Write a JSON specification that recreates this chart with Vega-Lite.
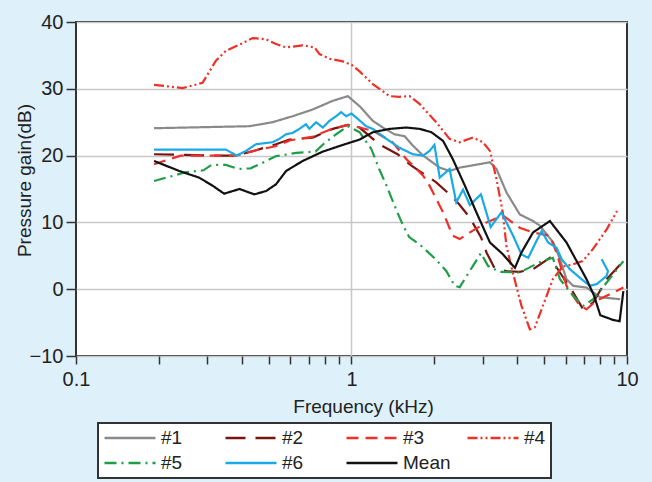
{
  "$schema": "https://vega.github.io/schema/vega-lite/v6.json",
  "width": 551,
  "height": 334,
  "autosize": {"type": "none"},
  "padding": {"left": 76, "top": 22, "right": 25, "bottom": 126},
  "background": "#DEF0FA",
  "config": {
    "view": {"stroke": "#333333", "strokeWidth": 2, "fill": "#ffffff"},
    "font": "Liberation Sans",
    "legend": {
      "orient": "none",
      "legendX": 22,
      "legendY": 401,
      "direction": "horizontal",
      "columns": 4,
      "gridAlign": "all",
      "symbolType": "M-1,0H5",
      "symbolSize": 289,
      "symbolStrokeWidth": 2.5,
      "symbolOpacity": 1,
      "labelFontSize": 19,
      "labelFont": "Liberation Sans",
      "labelColor": "#222222",
      "labelOffset": 38,
      "fillColor": "#ffffff",
      "strokeColor": "#333333",
      "strokeWidth": 2,
      "padding": 5,
      "columnPadding": 11,
      "rowPadding": 5
    }
  },
  "data": {
    "values": [
      {"s": "#1", "k": 0, "f": 0.192, "v": 24.1},
      {"s": "#1", "k": 1, "f": 0.426, "v": 24.4},
      {"s": "#1", "k": 2, "f": 0.517, "v": 25.0},
      {"s": "#1", "k": 3, "f": 0.612, "v": 25.9},
      {"s": "#1", "k": 4, "f": 0.723, "v": 26.9},
      {"s": "#1", "k": 5, "f": 0.855, "v": 28.2},
      {"s": "#1", "k": 6, "f": 0.97, "v": 28.9},
      {"s": "#1", "k": 7, "f": 1.07, "v": 27.4},
      {"s": "#1", "k": 8, "f": 1.195, "v": 25.2},
      {"s": "#1", "k": 9, "f": 1.3, "v": 24.2},
      {"s": "#1", "k": 10, "f": 1.43, "v": 23.2},
      {"s": "#1", "k": 11, "f": 1.56, "v": 22.9},
      {"s": "#1", "k": 12, "f": 1.67, "v": 21.5},
      {"s": "#1", "k": 13, "f": 1.82, "v": 20.0},
      {"s": "#1", "k": 14, "f": 2.09, "v": 18.2},
      {"s": "#1", "k": 15, "f": 2.27, "v": 17.7},
      {"s": "#1", "k": 16, "f": 2.47, "v": 18.2},
      {"s": "#1", "k": 17, "f": 3.18, "v": 19.0},
      {"s": "#1", "k": 18, "f": 3.36, "v": 18.0},
      {"s": "#1", "k": 19, "f": 3.65, "v": 14.5},
      {"s": "#1", "k": 20, "f": 4.08, "v": 11.2},
      {"s": "#1", "k": 21, "f": 4.56, "v": 10.2},
      {"s": "#1", "k": 22, "f": 4.83, "v": 9.5},
      {"s": "#1", "k": 23, "f": 5.4, "v": 7.0},
      {"s": "#1", "k": 24, "f": 5.71, "v": 4.5},
      {"s": "#1", "k": 25, "f": 6.03, "v": 1.5},
      {"s": "#1", "k": 26, "f": 6.38, "v": 0.5},
      {"s": "#1", "k": 27, "f": 7.13, "v": 0.25},
      {"s": "#1", "k": 28, "f": 7.98, "v": -1.2},
      {"s": "#1", "k": 29, "f": 9.44, "v": -1.5},

      {"s": "#2", "k": 0, "f": 0.192, "v": 20.2},
      {"s": "#2", "k": 1, "f": 0.331, "v": 20.0},
      {"s": "#2", "k": 2, "f": 0.381, "v": 20.0},
      {"s": "#2", "k": 3, "f": 0.45, "v": 20.8},
      {"s": "#2", "k": 4, "f": 0.532, "v": 21.7},
      {"s": "#2", "k": 5, "f": 0.595, "v": 22.4},
      {"s": "#2", "k": 6, "f": 0.723, "v": 22.7},
      {"s": "#2", "k": 7, "f": 0.855, "v": 24.0},
      {"s": "#2", "k": 8, "f": 0.97, "v": 24.6},
      {"s": "#2", "k": 9, "f": 1.07, "v": 24.2},
      {"s": "#2", "k": 10, "f": 1.26, "v": 21.7},
      {"s": "#2", "k": 11, "f": 1.47, "v": 20.2},
      {"s": "#2", "k": 12, "f": 1.65, "v": 18.5},
      {"s": "#2", "k": 13, "f": 1.87, "v": 17.0},
      {"s": "#2", "k": 14, "f": 2.03, "v": 16.0},
      {"s": "#2", "k": 15, "f": 2.27, "v": 14.2},
      {"s": "#2", "k": 16, "f": 2.45, "v": 12.8},
      {"s": "#2", "k": 17, "f": 2.68, "v": 10.8},
      {"s": "#2", "k": 18, "f": 2.95, "v": 7.8},
      {"s": "#2", "k": 19, "f": 3.09, "v": 5.5},
      {"s": "#2", "k": 20, "f": 3.3, "v": 3.2},
      {"s": "#2", "k": 21, "f": 3.65, "v": 2.7},
      {"s": "#2", "k": 22, "f": 4.08, "v": 2.6},
      {"s": "#2", "k": 23, "f": 4.56, "v": 3.0},
      {"s": "#2", "k": 24, "f": 5.25, "v": 4.7},
      {"s": "#2", "k": 25, "f": 5.71, "v": 2.5},
      {"s": "#2", "k": 26, "f": 6.38, "v": -0.5},
      {"s": "#2", "k": 27, "f": 6.93, "v": -3.0},
      {"s": "#2", "k": 28, "f": 7.54, "v": -2.0},
      {"s": "#2", "k": 29, "f": 8.44, "v": 1.5},
      {"s": "#2", "k": 30, "f": 9.7, "v": 4.2},

      {"s": "#3", "k": 0, "f": 0.192, "v": 18.7},
      {"s": "#3", "k": 1, "f": 0.24, "v": 20.0},
      {"s": "#3", "k": 2, "f": 0.33, "v": 20.0},
      {"s": "#3", "k": 3, "f": 0.38, "v": 20.0},
      {"s": "#3", "k": 4, "f": 0.45, "v": 20.8},
      {"s": "#3", "k": 5, "f": 0.53, "v": 21.4},
      {"s": "#3", "k": 6, "f": 0.6, "v": 22.3},
      {"s": "#3", "k": 7, "f": 0.72, "v": 22.8},
      {"s": "#3", "k": 8, "f": 0.85, "v": 24.0},
      {"s": "#3", "k": 9, "f": 0.97, "v": 24.6},
      {"s": "#3", "k": 10, "f": 1.07, "v": 24.2},
      {"s": "#3", "k": 11, "f": 1.2, "v": 23.7},
      {"s": "#3", "k": 12, "f": 1.41, "v": 22.0},
      {"s": "#3", "k": 13, "f": 1.58, "v": 19.5},
      {"s": "#3", "k": 14, "f": 1.72, "v": 18.0},
      {"s": "#3", "k": 15, "f": 1.82, "v": 17.0},
      {"s": "#3", "k": 16, "f": 1.92, "v": 15.5},
      {"s": "#3", "k": 17, "f": 2.15, "v": 11.5},
      {"s": "#3", "k": 18, "f": 2.33, "v": 8.0},
      {"s": "#3", "k": 19, "f": 2.47, "v": 7.5},
      {"s": "#3", "k": 20, "f": 2.69, "v": 8.5},
      {"s": "#3", "k": 21, "f": 3.09, "v": 10.0},
      {"s": "#3", "k": 22, "f": 3.55, "v": 11.0},
      {"s": "#3", "k": 23, "f": 4.08, "v": 9.2},
      {"s": "#3", "k": 24, "f": 4.56, "v": 8.5},
      {"s": "#3", "k": 25, "f": 5.25, "v": 8.0},
      {"s": "#3", "k": 26, "f": 5.55, "v": 5.5},
      {"s": "#3", "k": 27, "f": 6.03, "v": 0.5},
      {"s": "#3", "k": 28, "f": 6.75, "v": -2.5},
      {"s": "#3", "k": 29, "f": 7.13, "v": -3.0},
      {"s": "#3", "k": 30, "f": 7.76, "v": -1.7},
      {"s": "#3", "k": 31, "f": 8.91, "v": -0.5},
      {"s": "#3", "k": 32, "f": 9.7, "v": 0.25},

      {"s": "#4", "k": 0, "f": 0.192, "v": 30.6},
      {"s": "#4", "k": 1, "f": 0.244, "v": 30.1},
      {"s": "#4", "k": 2, "f": 0.288, "v": 30.9},
      {"s": "#4", "k": 3, "f": 0.322, "v": 34.2},
      {"s": "#4", "k": 4, "f": 0.35, "v": 35.7},
      {"s": "#4", "k": 5, "f": 0.392, "v": 36.6},
      {"s": "#4", "k": 6, "f": 0.438, "v": 37.6},
      {"s": "#4", "k": 7, "f": 0.49, "v": 37.4},
      {"s": "#4", "k": 8, "f": 0.532, "v": 36.7},
      {"s": "#4", "k": 9, "f": 0.579, "v": 36.2},
      {"s": "#4", "k": 10, "f": 0.665, "v": 36.5},
      {"s": "#4", "k": 11, "f": 0.734, "v": 36.2},
      {"s": "#4", "k": 12, "f": 0.765, "v": 35.2},
      {"s": "#4", "k": 13, "f": 0.832, "v": 34.5},
      {"s": "#4", "k": 14, "f": 0.93, "v": 34.1},
      {"s": "#4", "k": 15, "f": 1.0, "v": 33.6},
      {"s": "#4", "k": 16, "f": 1.07, "v": 32.6},
      {"s": "#4", "k": 17, "f": 1.195, "v": 30.7},
      {"s": "#4", "k": 18, "f": 1.375, "v": 28.9},
      {"s": "#4", "k": 19, "f": 1.49, "v": 28.8},
      {"s": "#4", "k": 20, "f": 1.625, "v": 28.9},
      {"s": "#4", "k": 21, "f": 1.77, "v": 27.7},
      {"s": "#4", "k": 22, "f": 2.03, "v": 25.0},
      {"s": "#4", "k": 23, "f": 2.27, "v": 22.5},
      {"s": "#4", "k": 24, "f": 2.47, "v": 22.0},
      {"s": "#4", "k": 25, "f": 2.76, "v": 22.7},
      {"s": "#4", "k": 26, "f": 3.0, "v": 22.0},
      {"s": "#4", "k": 27, "f": 3.18, "v": 20.7},
      {"s": "#4", "k": 28, "f": 3.36, "v": 16.5},
      {"s": "#4", "k": 29, "f": 3.54, "v": 11.5},
      {"s": "#4", "k": 30, "f": 3.65, "v": 6.5},
      {"s": "#4", "k": 31, "f": 3.85, "v": 2.5},
      {"s": "#4", "k": 32, "f": 4.14, "v": -2.5},
      {"s": "#4", "k": 33, "f": 4.44, "v": -6.0},
      {"s": "#4", "k": 34, "f": 4.63, "v": -5.7},
      {"s": "#4", "k": 35, "f": 4.95, "v": -2.5},
      {"s": "#4", "k": 36, "f": 5.38, "v": 1.5},
      {"s": "#4", "k": 37, "f": 5.85, "v": 3.4},
      {"s": "#4", "k": 38, "f": 6.36, "v": 3.7},
      {"s": "#4", "k": 39, "f": 6.9, "v": 4.2},
      {"s": "#4", "k": 40, "f": 7.52, "v": 6.0},
      {"s": "#4", "k": 41, "f": 8.45, "v": 9.0},
      {"s": "#4", "k": 42, "f": 9.2, "v": 11.7},

      {"s": "#5", "k": 0, "f": 0.192, "v": 16.2},
      {"s": "#5", "k": 1, "f": 0.25, "v": 17.5},
      {"s": "#5", "k": 2, "f": 0.29, "v": 17.8},
      {"s": "#5", "k": 3, "f": 0.31, "v": 18.6},
      {"s": "#5", "k": 4, "f": 0.35, "v": 18.6},
      {"s": "#5", "k": 5, "f": 0.39, "v": 18.0},
      {"s": "#5", "k": 6, "f": 0.43, "v": 18.1},
      {"s": "#5", "k": 7, "f": 0.48, "v": 19.0},
      {"s": "#5", "k": 8, "f": 0.53, "v": 19.9},
      {"s": "#5", "k": 9, "f": 0.63, "v": 20.4},
      {"s": "#5", "k": 10, "f": 0.74, "v": 20.6},
      {"s": "#5", "k": 11, "f": 0.79, "v": 21.7},
      {"s": "#5", "k": 12, "f": 0.88, "v": 23.2},
      {"s": "#5", "k": 13, "f": 0.97, "v": 24.4},
      {"s": "#5", "k": 14, "f": 1.07, "v": 23.5},
      {"s": "#5", "k": 15, "f": 1.18, "v": 21.0},
      {"s": "#5", "k": 16, "f": 1.26, "v": 18.0},
      {"s": "#5", "k": 17, "f": 1.34, "v": 15.5},
      {"s": "#5", "k": 18, "f": 1.45, "v": 12.0},
      {"s": "#5", "k": 19, "f": 1.54, "v": 9.5},
      {"s": "#5", "k": 20, "f": 1.62, "v": 7.8},
      {"s": "#5", "k": 21, "f": 1.79, "v": 6.5},
      {"s": "#5", "k": 22, "f": 2.03, "v": 4.4},
      {"s": "#5", "k": 23, "f": 2.21, "v": 2.7},
      {"s": "#5", "k": 24, "f": 2.37, "v": 0.5},
      {"s": "#5", "k": 25, "f": 2.47, "v": 0.3},
      {"s": "#5", "k": 26, "f": 2.76, "v": 3.5},
      {"s": "#5", "k": 27, "f": 2.95, "v": 5.4},
      {"s": "#5", "k": 28, "f": 3.13, "v": 3.5},
      {"s": "#5", "k": 29, "f": 3.45, "v": 2.6},
      {"s": "#5", "k": 30, "f": 4.08, "v": 2.5},
      {"s": "#5", "k": 31, "f": 4.8, "v": 4.0},
      {"s": "#5", "k": 32, "f": 5.38, "v": 4.7},
      {"s": "#5", "k": 33, "f": 5.71, "v": 1.5},
      {"s": "#5", "k": 34, "f": 6.38, "v": -1.0},
      {"s": "#5", "k": 35, "f": 6.93, "v": -2.5},
      {"s": "#5", "k": 36, "f": 7.54, "v": -1.5},
      {"s": "#5", "k": 37, "f": 8.44, "v": 1.0},
      {"s": "#5", "k": 38, "f": 9.7, "v": 4.2},

      {"s": "#6", "k": 0, "f": 0.192, "v": 20.9},
      {"s": "#6", "k": 1, "f": 0.35, "v": 20.9},
      {"s": "#6", "k": 2, "f": 0.383, "v": 20.0},
      {"s": "#6", "k": 3, "f": 0.414, "v": 20.7},
      {"s": "#6", "k": 4, "f": 0.45, "v": 21.7},
      {"s": "#6", "k": 5, "f": 0.517, "v": 22.0},
      {"s": "#6", "k": 6, "f": 0.547, "v": 22.5},
      {"s": "#6", "k": 7, "f": 0.579, "v": 23.2},
      {"s": "#6", "k": 8, "f": 0.612, "v": 23.4},
      {"s": "#6", "k": 9, "f": 0.647, "v": 24.0},
      {"s": "#6", "k": 10, "f": 0.684, "v": 24.7},
      {"s": "#6", "k": 11, "f": 0.703, "v": 24.0},
      {"s": "#6", "k": 12, "f": 0.744, "v": 25.0},
      {"s": "#6", "k": 13, "f": 0.787, "v": 24.2},
      {"s": "#6", "k": 14, "f": 0.832, "v": 25.2},
      {"s": "#6", "k": 15, "f": 0.88, "v": 25.9},
      {"s": "#6", "k": 16, "f": 0.917, "v": 26.5},
      {"s": "#6", "k": 17, "f": 0.957, "v": 25.9},
      {"s": "#6", "k": 18, "f": 1.0, "v": 26.3},
      {"s": "#6", "k": 19, "f": 1.04, "v": 25.7},
      {"s": "#6", "k": 20, "f": 1.13, "v": 24.4},
      {"s": "#6", "k": 21, "f": 1.195, "v": 24.0},
      {"s": "#6", "k": 22, "f": 1.34, "v": 22.5},
      {"s": "#6", "k": 23, "f": 1.49, "v": 21.2},
      {"s": "#6", "k": 24, "f": 1.67, "v": 20.2},
      {"s": "#6", "k": 25, "f": 1.82, "v": 20.0},
      {"s": "#6", "k": 26, "f": 1.92, "v": 20.7},
      {"s": "#6", "k": 27, "f": 2.0, "v": 21.6},
      {"s": "#6", "k": 28, "f": 2.09, "v": 16.7},
      {"s": "#6", "k": 29, "f": 2.27, "v": 18.0},
      {"s": "#6", "k": 30, "f": 2.4, "v": 13.0},
      {"s": "#6", "k": 31, "f": 2.54, "v": 14.9},
      {"s": "#6", "k": 32, "f": 2.69, "v": 12.6},
      {"s": "#6", "k": 33, "f": 2.95, "v": 14.2},
      {"s": "#6", "k": 34, "f": 3.2, "v": 9.3},
      {"s": "#6", "k": 35, "f": 3.5, "v": 11.5},
      {"s": "#6", "k": 36, "f": 3.86, "v": 8.0},
      {"s": "#6", "k": 37, "f": 4.14, "v": 5.2},
      {"s": "#6", "k": 38, "f": 4.38, "v": 4.7},
      {"s": "#6", "k": 39, "f": 4.69, "v": 7.2},
      {"s": "#6", "k": 40, "f": 4.9, "v": 8.7},
      {"s": "#6", "k": 41, "f": 5.17, "v": 7.0},
      {"s": "#6", "k": 42, "f": 5.55, "v": 6.2},
      {"s": "#6", "k": 43, "f": 5.79, "v": 4.5},
      {"s": "#6", "k": 44, "f": 6.2, "v": 3.0},
      {"s": "#6", "k": 45, "f": 6.75, "v": 1.7},
      {"s": "#6", "k": 46, "f": 7.33, "v": 0.5},
      {"s": "#6", "k": 47, "f": 7.76, "v": 0.75},
      {"s": "#6", "k": 48, "f": 8.44, "v": 2.0},
      {"s": "#6", "k": 49, "f": 8.53, "v": 2.7},
      {"s": "#6", "k": 50, "f": 8.09, "v": 4.5},

      {"s": "Mean", "k": 0, "f": 0.192, "v": 19.2},
      {"s": "Mean", "k": 1, "f": 0.237, "v": 17.7},
      {"s": "Mean", "k": 2, "f": 0.28, "v": 16.7},
      {"s": "Mean", "k": 3, "f": 0.313, "v": 15.5},
      {"s": "Mean", "k": 4, "f": 0.345, "v": 14.3},
      {"s": "Mean", "k": 5, "f": 0.392, "v": 15.0},
      {"s": "Mean", "k": 6, "f": 0.444, "v": 14.2},
      {"s": "Mean", "k": 7, "f": 0.49, "v": 14.7},
      {"s": "Mean", "k": 8, "f": 0.532, "v": 15.7},
      {"s": "Mean", "k": 9, "f": 0.579, "v": 17.7},
      {"s": "Mean", "k": 10, "f": 0.665, "v": 19.2},
      {"s": "Mean", "k": 11, "f": 0.787, "v": 20.6},
      {"s": "Mean", "k": 12, "f": 0.93, "v": 21.6},
      {"s": "Mean", "k": 13, "f": 1.07, "v": 22.4},
      {"s": "Mean", "k": 14, "f": 1.195, "v": 23.5},
      {"s": "Mean", "k": 15, "f": 1.375, "v": 24.0},
      {"s": "Mean", "k": 16, "f": 1.58, "v": 24.2},
      {"s": "Mean", "k": 17, "f": 1.77, "v": 24.0},
      {"s": "Mean", "k": 18, "f": 1.95, "v": 23.5},
      {"s": "Mean", "k": 19, "f": 2.15, "v": 22.2},
      {"s": "Mean", "k": 20, "f": 2.33, "v": 19.5},
      {"s": "Mean", "k": 21, "f": 2.58, "v": 15.5},
      {"s": "Mean", "k": 22, "f": 2.84, "v": 11.5},
      {"s": "Mean", "k": 23, "f": 3.18, "v": 7.0},
      {"s": "Mean", "k": 24, "f": 3.55, "v": 5.2},
      {"s": "Mean", "k": 25, "f": 3.92, "v": 3.2},
      {"s": "Mean", "k": 26, "f": 4.14, "v": 5.5},
      {"s": "Mean", "k": 27, "f": 4.56, "v": 8.5},
      {"s": "Mean", "k": 28, "f": 5.25, "v": 10.2},
      {"s": "Mean", "k": 29, "f": 6.03, "v": 7.0},
      {"s": "Mean", "k": 30, "f": 7.13, "v": 1.5},
      {"s": "Mean", "k": 31, "f": 7.6, "v": -1.0},
      {"s": "Mean", "k": 32, "f": 8.0, "v": -3.9},
      {"s": "Mean", "k": 33, "f": 8.9, "v": -4.6},
      {"s": "Mean", "k": 34, "f": 9.4, "v": -4.8},
      {"s": "Mean", "k": 35, "f": 9.7, "v": -0.3}
    ]
  },
  "mark": {"type": "line", "strokeWidth": 2.2, "clip": true},
  "encoding": {
    "x": {
      "field": "f",
      "type": "quantitative",
      "scale": {"type": "log", "domain": [0.1, 10], "nice": false},
      "axis": {
        "values": [0.1, 0.2, 0.3, 0.4, 0.5, 0.6, 0.7, 0.8, 0.9, 1, 2, 3, 4, 5, 6, 7, 8, 9, 10],
        "labelExpr": "datum.value == 0.1 ? '0.1' : datum.value == 1 ? '1' : datum.value == 10 ? '10' : ''",
        "labelFontSize": 20,
        "labelColor": "#222222",
        "labelPadding": 5,
        "labelFlush": false,
        "labelOverlap": false,
        "domain": false,
        "tickColor": "#333333",
        "tickWidth": 1.5,
        "tickSize": 8,
        "grid": true,
        "gridColor": {"condition": {"test": "datum.value == 1", "value": "#c8c8c8"}, "value": "transparent"},
        "gridWidth": 1.5,
        "title": "Frequency (kHz)",
        "titleFontSize": 19,
        "titleFontWeight": "normal",
        "titleColor": "#222222",
        "titleBaseline": "alphabetic",
        "titleX": 287,
        "titleY": 56
      }
    },
    "y": {
      "field": "v",
      "type": "quantitative",
      "scale": {"domain": [-10, 40], "nice": false, "zero": false},
      "axis": {
        "values": [-10, 0, 10, 20, 30, 40],
        "labelFontSize": 20,
        "labelColor": "#222222",
        "labelPadding": 3,
        "domain": false,
        "tickColor": "#333333",
        "tickWidth": 1.5,
        "tickSize": 10,
        "grid": true,
        "gridColor": "#c8c8c8",
        "gridWidth": 1.5,
        "title": "Pressure gain(dB)",
        "titleFontSize": 19,
        "titleFontWeight": "normal",
        "titleColor": "#222222",
        "titleAngle": -90,
        "titleBaseline": "alphabetic",
        "titleAlign": "center",
        "titleX": -46,
        "titleY": 158
      }
    },
    "color": {
      "field": "s",
      "type": "nominal",
      "title": null,
      "scale": {
        "domain": ["#1", "#2", "#3", "#4", "#5", "#6", "Mean"],
        "range": ["#8a8a8a", "#7a1410", "#ee3028", "#ee3028", "#1e9e48", "#18aae6", "#111111"]
      }
    },
    "strokeDash": {
      "field": "s",
      "type": "nominal",
      "title": null,
      "scale": {
        "domain": ["#1", "#2", "#3", "#4", "#5", "#6", "Mean"],
        "range": [[1, 0], [20, 10], [12, 7], [10, 3, 2, 3, 2, 3], [12, 5, 2, 5], [1, 0], [1, 0]]
      }
    },
    "order": {"field": "k", "type": "quantitative"}
  }
}
